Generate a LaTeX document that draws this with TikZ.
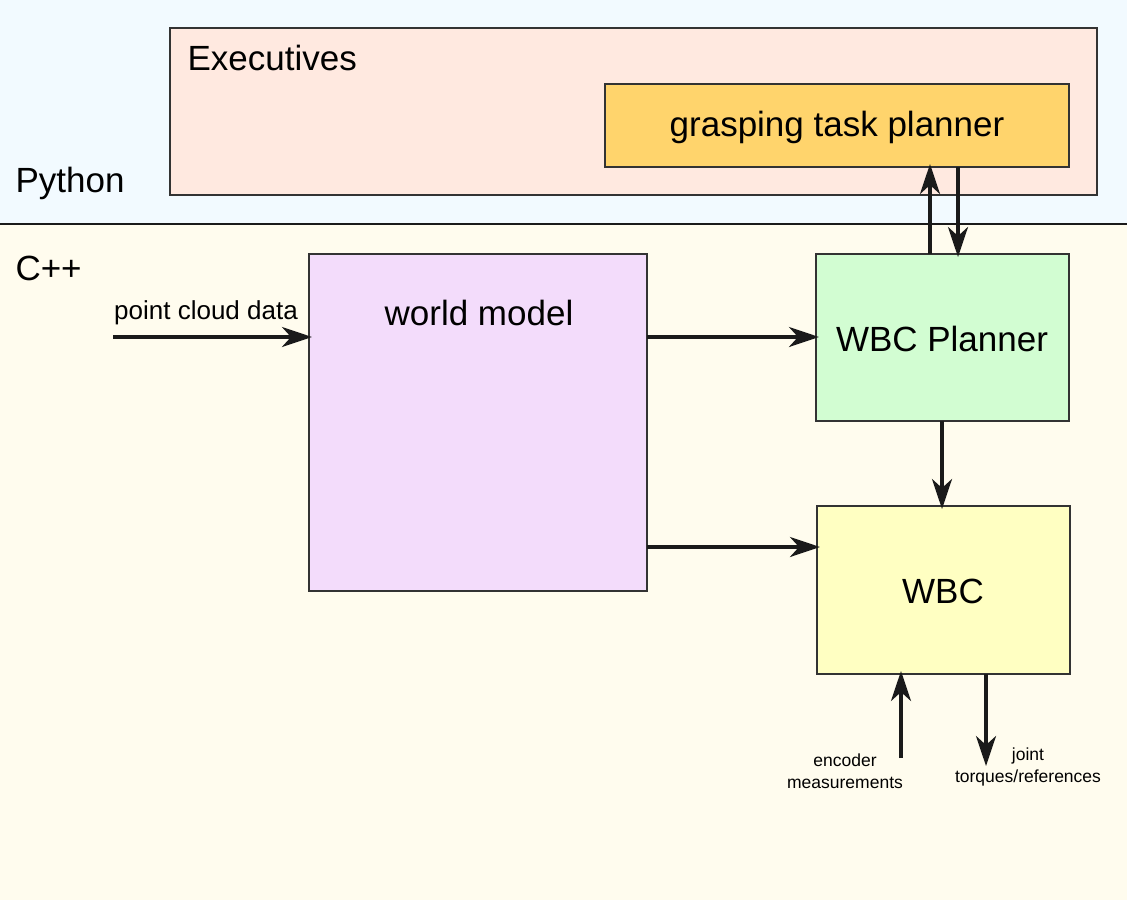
\documentclass[tikz,border=0pt]{standalone}
\usepackage{fontspec}
\setmainfont{Liberation Sans}
\usetikzlibrary{arrows.meta}
\definecolor{pyband}{HTML}{F2FAFF}
\definecolor{cppband}{HTML}{FFFCEE}
\definecolor{execfill}{HTML}{FFE9E0}
\definecolor{graspfill}{HTML}{FFD46C}
\definecolor{wmfill}{HTML}{F3DCFB}
\definecolor{plannerfill}{HTML}{D2FDD2}
\definecolor{wbcfill}{HTML}{FFFFC2}
\definecolor{edge}{HTML}{333333}
\definecolor{arr}{HTML}{1A1A1A}
\tikzset{
  box/.style={draw=edge, line width=2pt, anchor=north west, inner sep=0pt, outer sep=0pt},
  bigtext/.style={font=\fontsize{35}{40}\selectfont},
  midtext/.style={font=\fontsize{26}{30}\selectfont},
  smalltext/.style={font=\fontsize{17.5}{22}\selectfont, align=center},
  flow/.style={draw=arr, line width=3.5pt, shorten >=-3pt, -{Stealth[length=30pt, width=20pt, inset=9pt]}},
}
\begin{document}
\begin{tikzpicture}[x=1pt, y=-1pt]
\useasboundingbox (0,0) rectangle (1127,900);
% bands
\fill[pyband] (0,0) rectangle (1127,224);
\fill[cppband] (0,224) rectangle (1127,900);
\coordinate (bandL) at (0,224);
\coordinate (bandR) at (1127,224);
\draw[arr, line width=2pt] (bandL) -- (bandR);
\node[bigtext, anchor=west] (python) at (12,183) {Python};
\node[bigtext, anchor=west] (cpp) at (12,268) {C++};
% executives
\node[box, fill=execfill, minimum width=927pt, minimum height=167pt] (exec) at (170,28) {};
\node[bigtext, anchor=west] (execlabel) at (184,58) {Executives};
\node[box, fill=graspfill, minimum width=464pt, minimum height=83pt] (grasp) at (605,84) {};
\node[bigtext] (grasptext) at (837,127) {grasping task planner};
% world model
\node[box, fill=wmfill, minimum width=338pt, minimum height=337pt] (wm) at (309,254) {};
\node[bigtext] (wmtext) at (479,313) {world model};
% WBC planner
\node[box, fill=plannerfill, minimum width=253pt, minimum height=167pt] (planner) at (816,254) {};
\node[bigtext] (plannertext) at (942,339) {WBC Planner};
% WBC
\node[box, fill=wbcfill, minimum width=253pt, minimum height=168pt] (wbc) at (817,506) {};
\node[bigtext] (wbctext) at (943,591) {WBC};
% labels
\node[midtext] (pcd) at (206,313) {point cloud data};
\coordinate (pcdstart) at (113,337);
\node[smalltext] (enc) at (845,771) {encoder\\measurements};
\node[smalltext] (joint) at (1028,767) {joint\\torques/references};
\coordinate (encstart) at (901,758);
\coordinate (jointend) at (986,766);
% arrows
\draw[flow] (pcdstart) -- (wm.west |- pcdstart);
\draw[flow] (wm.east |- pcdstart) -- (planner.west |- pcdstart);
\draw[flow] (647,547) -- (wbc.west |- 0,547);
\draw[flow] (planner.south -| 942,0) -- (wbc.north -| 942,0);
\draw[flow] (planner.north -| 930,0) -- (grasp.south -| 930,0);
\draw[flow] (grasp.south -| 958,0) -- (planner.north -| 958,0);
\draw[flow] (encstart) -- (wbc.south -| encstart);
\draw[flow, shorten >=0pt] (wbc.south -| jointend) -- (jointend);
\end{tikzpicture}
\end{document}
